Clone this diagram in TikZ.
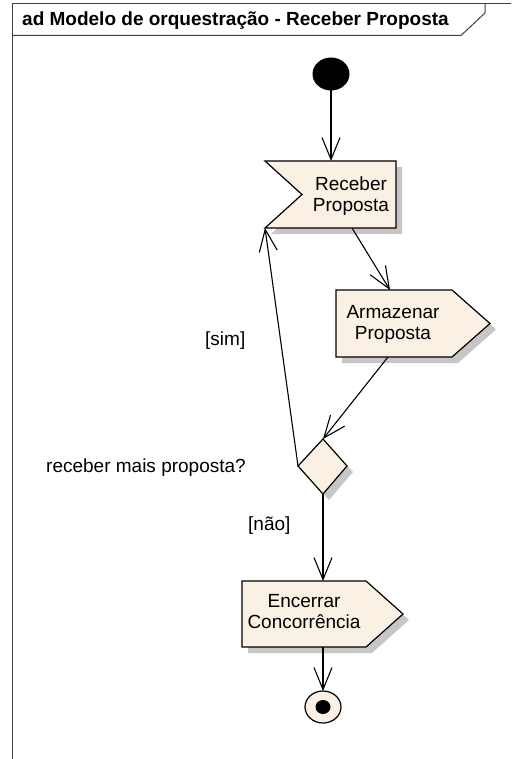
\documentclass[tikz,border=0pt]{standalone}
\usepackage{fontspec}
\setmainfont{Liberation Sans}
\usetikzlibrary{arrows.meta}
\definecolor{actfill}{HTML}{FAF0E3}
\definecolor{actshadow}{HTML}{C6C6C6}
\tikzset{
  shapeline/.style={draw=black, line width=1.2pt, fill=actfill, line join=miter},
  shadowfill/.style={fill=actshadow, draw=none},
  flow/.style={draw=black, line width=1.1pt,
    -{Straight Barb[length=22pt,width=18pt,line width=1.1pt]}},
  lbl/.style={inner sep=0pt, font=\fontsize{19}{21}\selectfont},
  acttext/.style={inner sep=0pt, align=center, font=\fontsize{19}{21}\selectfont},
}
\begin{document}
\begin{tikzpicture}[x=1pt,y=-1pt]
\useasboundingbox (0,0) rectangle (511,759);

% diagram frame and its name tab
\draw[black!75, line width=1pt] (12.5,759) -- (12.5,4) -- (511,4);
\draw[black!75, line width=1pt] (12.5,35.5) -- (461,35.5) -- (485,13) -- (485,4);
\node[anchor=base west, inner sep=0pt, font=\bfseries\fontsize{19}{21}\selectfont]
  (title) at (22,26) {ad Modelo de orquestração - Receber Proposta};

% initial node
\fill[black] (331,74) ellipse [x radius=18.5, y radius=16.5];
\coordinate (start) at (331,90.5);

% accept event: Receber Proposta
\fill[shadowfill] (271,167) -- (402,167) -- (402,234) -- (271,234) -- (308,200.5) -- cycle;
\draw[shapeline] (265,161) -- (396,161) -- (396,228) -- (265,228) -- (302,194.5) -- cycle;
\node[acttext] (receber) at (351,196) {Receber\\Proposta};
\coordinate (receber-in) at (331,161);
\coordinate (receber-out) at (352,228);
\coordinate (receber-loop) at (265,228);

% send signal: Armazenar Proposta
\fill[shadowfill] (342,296) -- (458,296) -- (496,329.5) -- (458,363) -- (342,363) -- cycle;
\draw[shapeline] (336,290) -- (452,290) -- (490,323.5) -- (452,357) -- (336,357) -- cycle;
\node[acttext] (armazenar) at (393,324) {Armazenar\\Proposta};
\coordinate (armazenar-in) at (390,290);
\coordinate (armazenar-out) at (388,357);

% decision
\fill[shadowfill] (329,445) -- (353,472) -- (329,500) -- (304,472) -- cycle;
\draw[shapeline] (323,439) -- (347,466) -- (323,494) -- (298,466) -- cycle;
\coordinate (dec-top) at (323,439);
\coordinate (dec-left) at (298,466);
\coordinate (dec-bottom) at (323,494);

% send signal: Encerrar Concorrencia
\fill[shadowfill] (248,587) -- (372,587) -- (409,620) -- (372,653) -- (248,653) -- cycle;
\draw[shapeline] (242,581) -- (366,581) -- (403,614) -- (366,647) -- (242,647) -- cycle;
\node[acttext] (encerrar) at (304,612) {Encerrar\\Concorrência};
\coordinate (encerrar-in) at (323,581);
\coordinate (encerrar-out) at (323,647);

% final node
\draw[line width=1.2pt, fill=actfill] (323,707) ellipse [x radius=18, y radius=16];
\fill[black] (323,707) ellipse [x radius=7.5, y radius=7];
\coordinate (final) at (323,691);

% control flows
\draw[flow] (start) -- (receber-in);
\draw[flow] (receber-out) -- (armazenar-in);
\draw[flow] (armazenar-out) -- (dec-top);
\draw[flow] (dec-left) -- (receber-loop);
\draw[flow] (dec-bottom) -- (encerrar-in);
\draw[flow] (encerrar-out) -- (final);

% guards and decision label
\node[lbl, anchor=base west] (sim) at (205,345) {[sim]};
\node[lbl, anchor=base west] (nao) at (248,530) {[não]};
\node[lbl, anchor=base west] (pergunta) at (46,472) {receber mais proposta?};
\end{tikzpicture}
\end{document}
